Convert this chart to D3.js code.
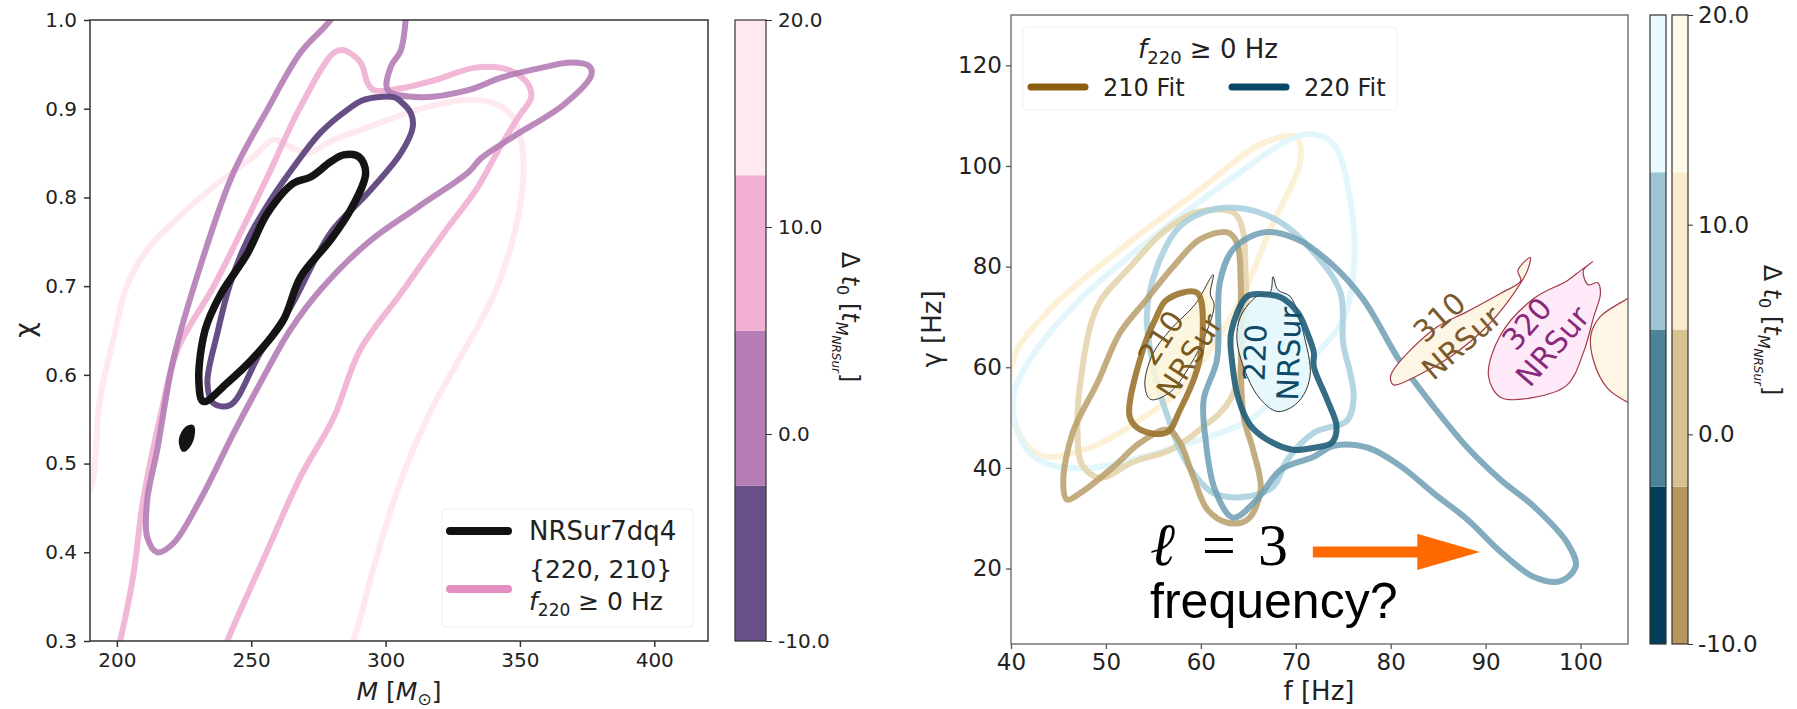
<!DOCTYPE html>
<html>
<head>
<meta charset="utf-8">
<script src="https://cdn.jsdelivr.net/npm/d3@7"></script>
<style>
  body { margin: 0; background: #fff; }
  text { font-family: "DejaVu Sans", sans-serif; fill: #222; }
</style>
</head>
<body>
<script>
// ---------- data : left panel (M, chi) ----------
var levels = [-10, -2.5, 5, 12.5, 20];
var purpleColors = ["#6a5088", "#b67db7", "#f0afd3", "#fde9ef"];
var blueColors = ["#003e5c", "#4d8399", "#9dc6d5", "#eaf9fd"];
var tanColors = ["#b7975e", "#d8c191", "#fbecd0", "#fefaea"];

var mTicks = [200, 250, 300, 350, 400];
var chiTicks = [0.3, 0.4, 0.5, 0.6, 0.7, 0.8, 0.9, 1.0];
var cbTicks = [-10, 0, 10, 20];

var nrsurMain = [[284.4,0.848],[290.0,0.846],[292.6,0.828],[287.0,0.786],[279.5,0.752],[268.3,0.710],[262.0,0.662],[252.3,0.624],[241.1,0.591],[232.2,0.570],[230.5,0.594],[232.9,0.651],[238.5,0.690],[248.6,0.737],[256.0,0.782],[265.7,0.816],[272.1,0.823],[279.5,0.840]];
var nrsurBlob = [[224.7,0.515],[223.6,0.527],[225.8,0.540],[228.1,0.542],[228.4,0.532],[226.6,0.519]];

var darkPurple = [[303.0,0.913],[291.9,0.910],[285.9,0.899],[275.8,0.873],[265.7,0.834],[257.2,0.797],[248.6,0.752],[242.2,0.703],[237.4,0.647],[233.7,0.591],[235.9,0.568],[242.2,0.566],[253.4,0.625],[264.6,0.676],[279.5,0.760],[293.4,0.805],[305.7,0.850],[310.1,0.879],[309.4,0.895],[305.7,0.908]];

var midPurple = [[308.3,1.03],[307.5,1.0],[305.7,0.966],[301.9,0.947],[300.8,0.921],[313.1,0.913],[330.7,0.921],[343.0,0.935],[357.9,0.946],[369.1,0.952],[375.8,0.948],[376.6,0.938],[366.5,0.905],[347.8,0.869],[335.5,0.844],[330.7,0.828],[312.0,0.789],[293.4,0.749],[275.8,0.696],[264.6,0.651],[253.4,0.591],[243.4,0.534],[231.0,0.459],[221.0,0.410],[215.0,0.400],[211.3,0.417],[211.3,0.459],[215.0,0.515],[221.0,0.617],[231.0,0.722],[243.4,0.828],[256.0,0.899],[268.3,0.963],[279.5,1.0],[285.1,1.03]];

var pinkMid = [[199.3,0.278],[201.2,0.300],[206.0,0.372],[209.8,0.459],[216.1,0.552],[222.5,0.628],[235.9,0.699],[246.0,0.760],[256.0,0.823],[268.3,0.902],[280.7,0.963],[284.4,0.966],[290.7,0.952],[293.3,0.929],[295.6,0.921],[305.7,0.923],[318.0,0.932],[332.9,0.946],[343.0,0.946],[347.8,0.941],[353.0,0.928],[354.2,0.913],[349.3,0.890],[341.9,0.853],[334.4,0.812],[321.7,0.760],[305.7,0.692],[290.5,0.628],[280.7,0.552],[268.3,0.485],[256.0,0.402],[241.1,0.300],[238.5,0.278]];

var pinkLight = [[186.3,0.459],[190.0,0.470],[193.7,0.572],[198.6,0.639],[203.8,0.701],[211.3,0.741],[221.0,0.772],[235.9,0.812],[250.8,0.846],[258.3,0.865],[264.6,0.857],[271.0,0.850],[280.7,0.865],[293.4,0.879],[312.0,0.899],[330.7,0.910],[340.4,0.906],[346.7,0.893],[350.4,0.865],[351.2,0.818],[347.8,0.758],[340.4,0.691],[327.3,0.617],[316.9,0.560],[305.7,0.481],[296.3,0.391],[290.7,0.327],[288.1,0.300],[287.0,0.278]];

// ---------- data : right panel (f, gamma) ----------
var fTicks = [40, 50, 60, 70, 80, 90, 100];
var gTicks = [20, 40, 60, 80, 100, 120];

var blue220Dark = [[63.2,67.0],[64.9,74.1],[66.6,74.5],[68.4,73.9],[70.2,70.9],[71.2,66.9],[71.9,62.9],[71.9,60.1],[73.3,53.6],[74.3,48.2],[73.8,45.0],[71.9,44.0],[69.7,43.6],[67.0,45.6],[65.2,48.5],[64.0,53.5],[63.3,60.9]];
var blueMid = [[61.7,61.5],[62.0,76.8],[63.4,83.4],[66.6,86.8],[70.2,85.4],[73.6,80.8],[77.1,73.5],[81.0,61.1],[84.5,52.2],[88.1,44.0],[91.6,37.6],[95.1,32.3],[98.6,25.1],[99.5,20.5],[97.9,17.5],[95.1,18.3],[91.6,23.3],[88.1,29.7],[84.5,35.0],[81.0,40.4],[77.6,44.0],[74.0,44.4],[71.9,42.2],[68.4,39.6],[65.9,33.7],[63.4,30.1],[61.5,35.6],[60.5,45.6],[60.3,53.6]];
var blueLight = [[54.3,70.1],[55.4,80.0],[57.8,88.0],[61.3,91.4],[64.9,91.4],[68.4,88.8],[71.9,82.8],[74.7,74.9],[75.0,64.7],[75.8,58.3],[76.1,54.0],[75.4,49.4],[71.9,47.0],[69.1,41.6],[67.6,36.2],[64.9,34.3],[61.3,35.0],[59.2,39.0],[57.8,43.6],[56.5,50.2],[55.4,56.9]];
var blueFaint = [[40.2,53.6],[42.0,61.5],[47.3,73.5],[54.7,85.4],[63.1,97.3],[69.4,105.3],[71.9,106.3],[74.0,104.3],[75.8,92.6],[76.1,79.2],[75.0,69.5],[72.6,63.5],[69.4,57.5],[65.2,49.6],[59.9,45.6],[54.7,42.6],[48.3,40.0],[43.5,41.0],[41.2,45.0]];

var brown210Dark = [[56.4,73.4],[59.6,74.8],[60.2,66.8],[59.6,59.5],[57.8,51.5],[56.4,47.0],[53.6,47.6],[52.5,50.2],[53.9,63.5],[55.2,69.5]];
var brownMid = [[62.8,86.8],[59.9,85.4],[57.1,80.0],[54.3,73.5],[51.5,66.9],[49.1,56.9],[46.5,47.0],[45.5,37.0],[45.9,33.7],[47.3,35.0],[50.8,40.2],[53.6,45.0],[56.5,47.6],[57.8,45.0],[59.2,38.2],[60.7,31.7],[62.8,29.1],[64.9,29.7],[66.3,35.6],[65.5,43.6],[64.5,50.2],[64.2,66.9],[64.2,76.8],[63.8,84.8]];
var tanLight = [[63.4,90.8],[59.6,90.8],[56.0,86.8],[52.6,80.0],[49.1,72.1],[47.3,56.9],[47.0,47.6],[47.5,40.6],[49.4,38.0],[52.9,41.2],[56.8,43.6],[59.9,47.6],[63.1,53.6],[64.7,67.5],[64.7,79.4],[64.4,87.4]];
var tanFaint = [[40.2,61.5],[44.1,71.5],[51.5,83.4],[59.9,95.3],[66.3,104.3],[70.0,105.7],[70.5,101.3],[67.3,87.4],[64.2,73.5],[61.0,63.5],[57.8,55.5],[53.6,49.6],[48.3,44.0],[43.1,42.5],[40.4,48.6]];

var nrsur210 = [[61.3,78.4],[61.0,74.5],[61.4,72.5],[60.5,66.5],[58.9,60.5],[56.8,55.1],[54.7,53.6],[54.1,56.5],[54.9,62.5],[56.8,67.5],[59.4,72.5]];
var nrsur220 = [[67.6,78.0],[68.1,75.4],[69.4,74.1],[70.2,70.9],[70.8,66.9],[71.5,58.1],[70.2,53.0],[68.1,51.2],[66.3,53.6],[64.9,58.1],[63.8,65.5],[64.2,70.1],[65.9,74.1],[67.3,74.9]];
var nrsur310 = [[94.7,81.8],[93.4,79.2],[93.7,77.2],[91.6,74.7],[88.1,71.1],[84.5,67.5],[80.0,58.3],[80.3,56.5],[82.8,58.3],[86.3,62.1],[89.8,67.5],[92.6,73.7],[94.4,79.2]];
var nrsur320 = [[101.3,81.0],[100.3,79.2],[100.8,76.4],[101.8,76.8],[102.1,74.7],[101.4,70.1],[100.3,62.9],[98.6,56.5],[95.1,54.0],[91.6,54.0],[90.3,58.3],[91.6,66.5],[95.1,73.7],[98.6,77.2],[100.0,79.2]];
var nrsurEdge = [[106.4,75.4],[105.0,73.7],[102.1,70.1],[101.1,66.5],[101.4,61.1],[102.9,55.7],[105.0,53.0],[106.4,51.6]];

var modeLabels = [
    {top: "210", bottom: "NRSur", f: 57.3, g: 64.0, rot: -57, color: "#7a5a1e"},
    {top: "220", bottom: "NRSur", f: 67.5, g: 62.8, rot: -88, color: "#0e4a66"},
    {top: "310", bottom: "NRSur", f: 86.3, g: 67.4, rot: -41, color: "#7d5a2e"},
    {top: "320", bottom: "NRSur", f: 95.7, g: 66.4, rot: -49, color: "#882a7c"}
];
var arrowPts = [[71.8,24.4],[82.8,24.4],[82.8,26.9],[89.4,23.3],[82.8,19.7],[82.8,22.2],[71.8,22.2]];

//svg
var svg = d3.select("body").append("svg")
    .attr("width", 1797)
    .attr("height", 709);

var defs = svg.append("defs");

//scales
var xL = d3.scaleLinear().domain([190, 420]).range([90, 708]);
var yL = d3.scaleLinear().domain([0.3, 1.0]).range([641, 20]);
var xR = d3.scaleLinear().domain([40, 105]).range([1011, 1628]);
var yR = d3.scaleLinear().domain([5, 130]).range([644, 15]);
var cbL = d3.scaleLinear().domain([-10, 20]).range([641, 20]);
var cbR = d3.scaleLinear().domain([-10, 20]).range([644, 15]);

defs.append("clipPath").attr("id", "clipL").append("rect")
    .attr("x", 90).attr("y", 20).attr("width", 618).attr("height", 621);
defs.append("clipPath").attr("id", "clipR").append("rect")
    .attr("x", 1011).attr("y", 15).attr("width", 617).attr("height", 629);

function contour(g, pts, xs, ys, closed) {
    var line = d3.line()
        .x(d => xs(d[0]))
        .y(d => ys(d[1]))
        .curve(closed ? d3.curveCatmullRomClosed.alpha(0.5) : d3.curveCatmullRom.alpha(0.5));
    return g.append("path").attr("d", line(pts));
}

// ================= left panel =================
var left = svg.append("g").attr("clip-path", "url(#clipL)");

contour(left, pinkLight, xL, yL, false).attr("fill", "none").attr("stroke", purpleColors[3]).attr("stroke-width", 6);
contour(left, pinkMid, xL, yL, false).attr("fill", "none").attr("stroke", purpleColors[2]).attr("stroke-width", 6).attr("stroke-opacity", 0.9);
contour(left, midPurple, xL, yL, false).attr("fill", "none").attr("stroke", "#b47cb4").attr("stroke-width", 6).attr("stroke-opacity", 0.9);
contour(left, darkPurple, xL, yL, true).attr("fill", "none").attr("stroke", "#5f4680").attr("stroke-width", 6).attr("stroke-opacity", 0.95);
contour(left, nrsurMain, xL, yL, true).attr("fill", "none").attr("stroke", "#141414").attr("stroke-width", 7.5);
contour(left, nrsurBlob, xL, yL, true).attr("fill", "#141414").attr("stroke", "#141414").attr("stroke-width", 3);

// frame + axes
svg.append("rect").attr("x", 90).attr("y", 20).attr("width", 618).attr("height", 621)
    .attr("fill", "none").attr("stroke", "#333").attr("stroke-width", 1.5);

var xAxisL = svg.append("g").attr("transform", "translate(0,641)")
    .call(d3.axisBottom(xL).tickValues(mTicks).tickSize(6).tickPadding(6).tickFormat(d3.format("d")));
var yAxisL = svg.append("g").attr("transform", "translate(90,0)")
    .call(d3.axisLeft(yL).tickValues(chiTicks).tickSize(6).tickPadding(7).tickFormat(d => d.toFixed(1)));
[xAxisL, yAxisL].forEach(function (a) {
    a.select(".domain").remove();
    a.selectAll("line").attr("stroke", "#333").attr("stroke-width", 1.5);
    a.selectAll("text").style("font-size", "20px").attr("fill", "#222");
});

// axis labels
var mLab = svg.append("text").attr("x", 399).attr("y", 700).attr("text-anchor", "middle").style("font-size", "25px");
mLab.append("tspan").style("font-style", "italic").text("M");
mLab.append("tspan").text(" [");
mLab.append("tspan").style("font-style", "italic").text("M");
mLab.append("tspan").attr("dy", 5).style("font-size", "17px").text("\u2299");
mLab.append("tspan").attr("dy", -5).text("]");

svg.append("text").attr("transform", "translate(34,330) rotate(-90)")
    .attr("text-anchor", "middle").style("font-size", "27px").text("\u03c7");

// legend
var legL = svg.append("g");
legL.append("rect").attr("x", 442).attr("y", 509).attr("width", 251).attr("height", 118).attr("rx", 4)
    .attr("fill", "#fff").attr("fill-opacity", 0.8).attr("stroke", "#eee");
legL.append("line").attr("x1", 450).attr("x2", 508).attr("y1", 531).attr("y2", 531)
    .attr("stroke", "#111").attr("stroke-width", 8).attr("stroke-linecap", "round");
legL.append("line").attr("x1", 450).attr("x2", 508).attr("y1", 589).attr("y2", 589)
    .attr("stroke", "#e38fbf").attr("stroke-width", 8).attr("stroke-linecap", "round");
legL.append("text").attr("x", 529).attr("y", 540).style("font-size", "26px").text("NRSur7dq4");
legL.append("text").attr("x", 529).attr("y", 578).style("font-size", "25px").text("{220, 210}");
var fLeg = legL.append("text").attr("x", 529).attr("y", 610).style("font-size", "25px");
fLeg.append("tspan").style("font-style", "italic").text("f");
fLeg.append("tspan").attr("dy", 6).style("font-size", "17px").text("220");
fLeg.append("tspan").attr("dy", -6).text(" \u2265 0 Hz");

// colorbar left
function colorbar(x, w, scale, colors) {
    var g = svg.append("g");
    g.selectAll("rect.band")
        .data(colors)
        .enter()
        .append("rect")
        .attr("x", x)
        .attr("width", w)
        .attr("y", (d, i) => scale(levels[i + 1]))
        .attr("height", (d, i) => scale(levels[i]) - scale(levels[i + 1]))
        .attr("fill", d => d);
    g.append("rect").attr("x", x).attr("y", scale(20)).attr("width", w).attr("height", scale(-10) - scale(20))
        .attr("fill", "none").attr("stroke", "#333").attr("stroke-width", 1.2);
    return g;
}
colorbar(735, 31, cbL, purpleColors);
var cbAxisL = svg.append("g").attr("transform", "translate(766,0)")
    .call(d3.axisRight(cbL).tickValues(cbTicks).tickSize(6).tickPadding(6).tickFormat(d => d.toFixed(1)));
cbAxisL.select(".domain").remove();
cbAxisL.selectAll("line").attr("stroke", "#333");
cbAxisL.selectAll("text").style("font-size", "20px").attr("fill", "#222");

function cbLabel(x, y) {
    var t = svg.append("text").attr("transform", `translate(${x},${y}) rotate(90)`)
        .attr("text-anchor", "middle").style("font-size", "24px");
    t.append("tspan").text("\u0394 ");
    t.append("tspan").style("font-style", "italic").text("t");
    t.append("tspan").attr("dy", 5).style("font-size", "16px").text("0");
    t.append("tspan").attr("dy", -5).text(" [");
    t.append("tspan").style("font-style", "italic").text("t");
    t.append("tspan").attr("dy", 6).style("font-size", "16px").style("font-style", "italic").text("M");
    t.append("tspan").attr("dy", 4).style("font-size", "12px").style("font-style", "italic").text("NRSur");
    t.append("tspan").attr("dy", -10).text("]");
}
cbLabel(842, 317);

// ================= right panel =================
var right = svg.append("g").attr("clip-path", "url(#clipR)");

contour(right, nrsurEdge, xR, yR, false).attr("fill", "#fdf6e4").attr("stroke", "#a33a4a").attr("stroke-width", 1.2);
contour(right, tanFaint, xR, yR, true).attr("fill", "none").attr("stroke", "#fcf0d2").attr("stroke-width", 6).attr("stroke-opacity", 0.9);
contour(right, blueFaint, xR, yR, true).attr("fill", "none").attr("stroke", "#e0f5fb").attr("stroke-width", 6).attr("stroke-opacity", 0.9);
contour(right, tanLight, xR, yR, true).attr("fill", "none").attr("stroke", "#e3d2a8").attr("stroke-width", 6).attr("stroke-opacity", 0.85);
contour(right, blueLight, xR, yR, true).attr("fill", "none").attr("stroke", "#a6cfdd").attr("stroke-width", 6).attr("stroke-opacity", 0.85);
contour(right, brownMid, xR, yR, true).attr("fill", "none").attr("stroke", "#b99d69").attr("stroke-width", 6).attr("stroke-opacity", 0.85);
contour(right, blueMid, xR, yR, true).attr("fill", "none").attr("stroke", "#6d9fb3").attr("stroke-width", 6).attr("stroke-opacity", 0.85);

contour(right, nrsur210, xR, yR, true).attr("fill", "#fdf5d8").attr("fill-opacity", 0.85).attr("stroke", "#333").attr("stroke-width", 1);
contour(right, nrsur220, xR, yR, true).attr("fill", "#e3f7fc").attr("fill-opacity", 0.9).attr("stroke", "#333").attr("stroke-width", 1);
contour(right, nrsur310, xR, yR, true).attr("fill", "#fdf6e4").attr("stroke", "#a33a4a").attr("stroke-width", 1.2);
contour(right, nrsur320, xR, yR, true).attr("fill", "#fde9f8").attr("stroke", "#a33a4a").attr("stroke-width", 1.2);

contour(right, brown210Dark, xR, yR, true).attr("fill", "none").attr("stroke", "#9a722c").attr("stroke-width", 6).attr("stroke-opacity", 0.9);
contour(right, blue220Dark, xR, yR, true).attr("fill", "none").attr("stroke", "#1f5d78").attr("stroke-width", 6).attr("stroke-opacity", 0.9);

// contour labels
modeLabels.forEach(function (m) {
    var g = right.append("g")
        .attr("transform", `translate(${xR(m.f)},${yR(m.g)}) rotate(${m.rot})`);
    g.append("text").attr("y", -17).attr("text-anchor", "middle").attr("dominant-baseline", "central")
        .style("font-size", "30px").style("fill", m.color).text(m.top);
    g.append("text").attr("y", 17).attr("text-anchor", "middle").attr("dominant-baseline", "central")
        .style("font-size", "30px").style("fill", m.color).text(m.bottom);
});

// l = 3 annotation
right.append("polygon")
    .attr("points", arrowPts.map(d => xR(d[0]) + "," + yR(d[1])).join(" "))
    .attr("fill", "#ff6a00");
var ell = svg.append("text").attr("x", xR(54.65)).attr("y", yR(20.7)).style("font-size", "60px").style("fill", "#000");
ell.append("tspan").style("font-family", "DejaVu Serif").style("font-style", "italic").text("\u2113");
ell.append("tspan").attr("x", xR(54.65) + 52).style("font-family", "Liberation Serif").text("=");
ell.append("tspan").attr("x", xR(54.65) + 108).style("font-family", "Liberation Serif").text("3");
svg.append("text").attr("x", xR(54.65)).attr("y", yR(10.2))
    .style("font-family", "Liberation Sans").style("font-size", "50px").style("fill", "#000").text("frequency?");

// frame + axes
svg.append("rect").attr("x", 1011).attr("y", 15).attr("width", 617).attr("height", 629)
    .attr("fill", "none").attr("stroke", "#777").attr("stroke-width", 1.5);
var xAxisR = svg.append("g").attr("transform", "translate(0,644)")
    .call(d3.axisBottom(xR).tickValues(fTicks).tickSize(5).tickPadding(5));
var yAxisR = svg.append("g").attr("transform", "translate(1011,0)")
    .call(d3.axisLeft(yR).tickValues(gTicks).tickSize(5).tickPadding(4));
[xAxisR, yAxisR].forEach(function (a) {
    a.select(".domain").remove();
    a.selectAll("line").attr("stroke", "#555").attr("stroke-width", 1.3);
    a.selectAll("text").style("font-size", "23px").attr("fill", "#222");
});

svg.append("text").attr("x", 1319).attr("y", 700).attr("text-anchor", "middle")
    .style("font-size", "26px").text("f [Hz]");
var gLab = svg.append("text").attr("transform", "translate(941,329) rotate(-90)")
    .attr("text-anchor", "middle").style("font-size", "26px");
gLab.append("tspan").text("\u03b3 [Hz]");

// legend right
var legR = svg.append("g");
legR.append("rect").attr("x", 1023).attr("y", 27).attr("width", 374).attr("height", 83).attr("rx", 4)
    .attr("fill", "#fff").attr("fill-opacity", 0.8).attr("stroke", "#f0f0f0");
var tR = legR.append("text").attr("x", 1208).attr("y", 58).attr("text-anchor", "middle").style("font-size", "26px");
tR.append("tspan").style("font-style", "italic").text("f");
tR.append("tspan").attr("dy", 6).style("font-size", "18px").text("220");
tR.append("tspan").attr("dy", -6).text(" \u2265 0 Hz");
legR.append("line").attr("x1", 1031).attr("x2", 1085).attr("y1", 87).attr("y2", 87)
    .attr("stroke", "#8b5e12").attr("stroke-width", 7).attr("stroke-linecap", "round");
legR.append("text").attr("x", 1103).attr("y", 96).style("font-size", "24px").text("210 Fit");
legR.append("line").attr("x1", 1232).attr("x2", 1286).attr("y1", 87).attr("y2", 87)
    .attr("stroke", "#0b4868").attr("stroke-width", 7).attr("stroke-linecap", "round");
legR.append("text").attr("x", 1304).attr("y", 96).style("font-size", "24px").text("220 Fit");

// colorbars right
colorbar(1650, 16, cbR, blueColors);
colorbar(1672, 16, cbR, tanColors);
var cbAxisR = svg.append("g").attr("transform", "translate(1688,0)")
    .call(d3.axisRight(cbR).tickValues(cbTicks).tickSize(5).tickPadding(5).tickFormat(d => d.toFixed(1)));
cbAxisR.select(".domain").remove();
cbAxisR.selectAll("line").attr("stroke", "#333");
cbAxisR.selectAll("text").style("font-size", "23px").attr("fill", "#222");
cbLabel(1764, 330);
</script>
</body>
</html>
